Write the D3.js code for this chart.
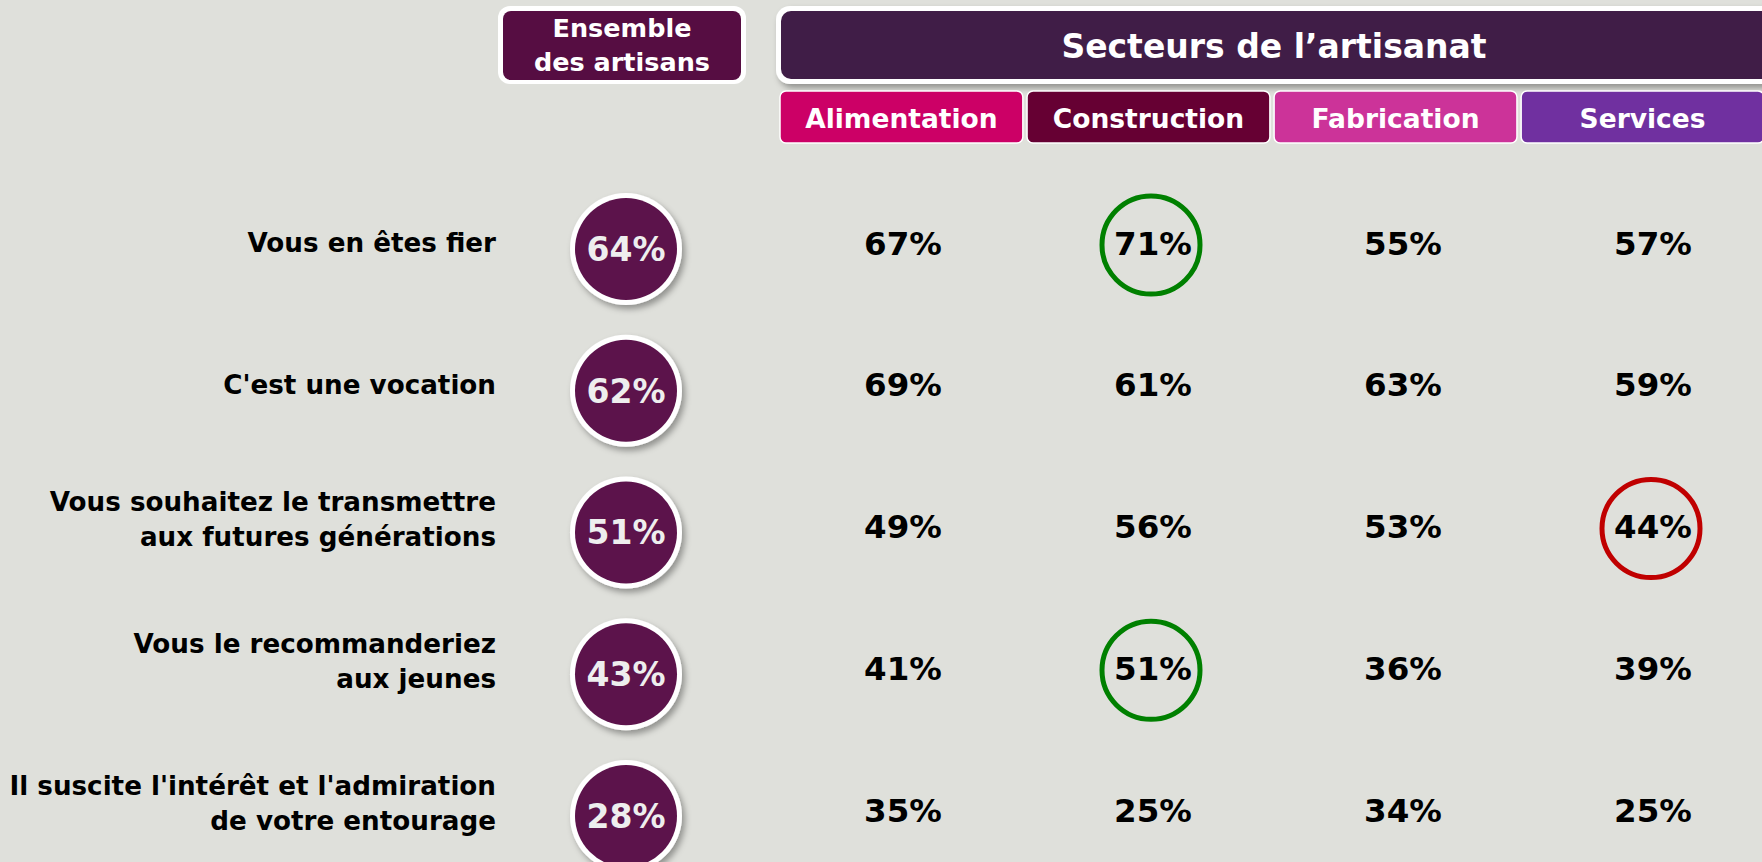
<!DOCTYPE html>
<html><head><meta charset="utf-8">
<script src="https://cdn.jsdelivr.net/npm/d3@7"></script>
<style>
html,body{margin:0;padding:0;background:#dfe0db;}
svg{display:block;font-family:"DejaVu Sans",Verdana,sans-serif;font-weight:bold;}
</style></head>
<body>
<svg id="chart" width="1762" height="862"></svg>
<script>
const categories = [
  ["Vous en êtes fier"],
  ["C'est une vocation"],
  ["Vous souhaitez le transmettre", "aux futures générations"],
  ["Vous le recommanderiez", "aux jeunes"],
  ["Il suscite l'intérêt et l'admiration", "de votre entourage"]
];
const ensemble = [64, 62, 51, 43, 28];
const sectors = ["Alimentation", "Construction", "Fabrication", "Services"];
const sectorColors = ["#cc0066", "#660033", "#cc3399", "#7030a0"];
const alimentation = [67, 69, 49, 41, 35];
const construction = [71, 61, 56, 51, 25];
const fabrication = [55, 63, 53, 36, 34];
const services = [57, 59, 44, 39, 25];
const sectorValues = [alimentation, construction, fabrication, services];
const highlights = [
  {row: 0, sector: "Construction", color: "#008000"},
  {row: 2, sector: "Services", color: "#c00000"},
  {row: 3, sector: "Construction", color: "#008000"}
];
const ensembleTitle = ["Ensemble", "des artisans"];
const sectorsTitle = "Secteurs de l’artisanat";

const svg = d3.select("#chart");
const defs = svg.append("defs");
const f = defs.append("filter").attr("id","sh").attr("x","-30%").attr("y","-30%").attr("width","160%").attr("height","160%");
f.append("feDropShadow").attr("dx",3).attr("dy",4).attr("stdDeviation",3).attr("flood-color","#000").attr("flood-opacity",0.35);

const rowIdx = d3.range(categories.length);
const y = d3.scalePoint().domain(rowIdx).range([243, 810]);
const xHead = d3.scaleBand().domain(sectors).range([780, 1764]).paddingInner(0.017).paddingOuter(0);
const xVal = d3.scalePoint().domain(sectors).range([903, 1653]);
const ensX = 626;

// Ensemble header
svg.append("rect").attr("x",498).attr("y",6).attr("width",248).attr("height",78).attr("rx",12).attr("fill","#fff");
svg.append("rect").attr("x",503).attr("y",11).attr("width",238).attr("height",69).attr("rx",8).attr("fill","#560d42");
svg.append("text").attr("x",622).attr("fill","#fff").attr("font-size",25.5).attr("text-anchor","middle")
  .selectAll("tspan").data(ensembleTitle).join("tspan").attr("x",622).attr("y",(d,i)=>37+i*34).text(d=>d);

// Secteurs header
svg.append("rect").attr("x",776).attr("y",6).attr("width",1000).attr("height",78).attr("rx",14).attr("fill","#fff").attr("filter","url(#sh)");
svg.append("rect").attr("x",781).attr("y",11).attr("width",990).attr("height",68).attr("rx",10).attr("fill","#401d47");
svg.append("text").attr("x",1274).attr("y",46).attr("dy","0.36em").attr("fill","#fff").attr("font-size",33).attr("text-anchor","middle").text(sectorsTitle);

// Sector sub-headers
const sh = svg.append("g").selectAll("g").data(sectors).join("g");
sh.append("rect").attr("x",d=>xHead(d)).attr("y",91).attr("width",xHead.bandwidth()).attr("height",52).attr("rx",6)
  .attr("fill",(d,i)=>sectorColors[i]).attr("stroke","#fff").attr("stroke-width",1.5);
sh.append("text").attr("x",d=>xHead(d)+xHead.bandwidth()/2).attr("y",118).attr("dy","0.36em").attr("fill","#fff")
  .attr("font-size",26.5).attr("text-anchor","middle").text(d=>d);

// Row labels
const lab = svg.append("g").selectAll("text").data(rowIdx).join("text")
  .attr("font-size",26.2).attr("fill","#000").attr("text-anchor","end");
lab.each(function(r){
  const lines = categories[r];
  const lh = 35;
  const c = y(r) - (lines.length>1 ? 7 : 0);
  d3.select(this).selectAll("tspan").data(lines).join("tspan")
    .attr("x",496).attr("y",(d,i)=>c + (i-(lines.length-1)/2)*lh).attr("dy","0.36em").text(d=>d);
});

// Ensemble circles
const ec = svg.append("g").selectAll("g").data(rowIdx).join("g")
  .attr("transform",r=>`translate(${ensX},${y(r)+6})`);
ec.append("circle").attr("r",56).attr("fill","#fff").attr("filter","url(#sh)");
ec.append("circle").attr("r",51).attr("fill","#5c134b");
ec.append("text").attr("dy","0.36em").attr("text-anchor","middle").attr("font-size",33).attr("fill","#eeeeee")
  .text(r=>ensemble[r]+"%");

// Sector values
sectors.forEach((s,si)=>{
  svg.append("g").selectAll("text").data(rowIdx).join("text")
    .attr("x",xVal(s)).attr("y",r=>y(r)).attr("dy","0.36em").attr("text-anchor","middle")
    .attr("font-size",32.5).attr("fill","#000").text(r=>sectorValues[si][r]+"%");
});

// Highlight rings
svg.append("g").selectAll("circle").data(highlights).join("circle")
  .attr("cx",d=>xVal(d.sector)-2).attr("cy",d=>y(d.row)+2).attr("r",49)
  .attr("fill","none").attr("stroke",d=>d.color).attr("stroke-width",5);
</script>
</body></html>
